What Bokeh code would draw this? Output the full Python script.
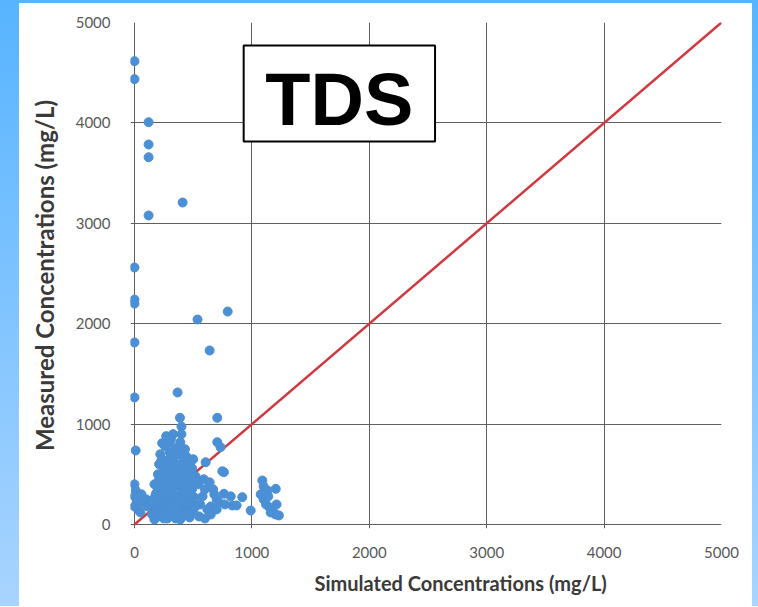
from bokeh.plotting import figure
from bokeh.models import Label, BoxAnnotation, Spacer, FixedTicker, Range1d, Title
from bokeh.layouts import row, column
from bokeh.embed import file_html
from bokeh.resources import INLINE

# ---- data ----
simulated = [
    0, 0, 0, 0, 0, 0, 0, 10, 0, 10, 0, 20, 0, 30, 60, 80, 50, 100, 110,
    120, 120, 120, 120,
    410, 537, 794, 640, 367,
    387, 705, 400, 400, 236, 705, 733, 606, 748, 1089, 1132, 918, 990,
    1075, 1100, 1120, 1150, 1180, 1200, 1230, 1203, 1160, 1100, 1140, 1210,
    762, 762, 833, 700, 650, 680, 600, 620, 560, 580, 540, 650,
    150, 160, 170, 180, 190, 200, 200, 210, 220, 220, 230, 240, 250, 250, 260, 260,
    270, 280, 280, 290, 290, 300, 300, 310, 310, 320, 320, 330, 330, 340, 340, 350,
    350, 360, 360, 370, 370, 380, 380, 390, 390, 400, 400, 410, 410, 420, 420, 430,
    430, 440, 440, 450, 450, 460, 470, 470, 480, 480, 490, 500, 500, 510, 520, 520,
    170, 190, 210, 230, 240, 260, 270, 290, 300, 310, 320, 340, 350, 360, 370, 380,
    390, 400, 410, 420, 430, 440, 460, 480, 490, 270, 330, 280, 300, 350, 250, 230,
    330, 360, 440, 460, 400, 300, 180, 200, 220, 210,
    550, 600, 590, 640, 670, 700, 720, 770, 820, 870,
]
measured = [
    4615, 4436, 2560, 2240, 2200, 1813, 1265, 737, 400, 340, 280, 230, 180, 150, 300, 220, 120, 250, 180,
    4007, 3785, 3658, 3078,
    3207, 2042, 2121, 1733, 1315,
    1063, 1063, 975, 900, 810, 820, 770, 620, 530, 438, 339, 272, 139,
    300, 250, 200, 170, 130, 100, 90, 355, 120, 380, 280, 200,
    521, 306, 189, 250, 180, 300, 350, 150, 200, 280, 400, 100,
    100, 250, 400, 180, 320, 500, 80, 600, 260, 700, 150, 420, 550, 60, 330, 780,
    200, 640, 470, 100, 380, 720, 250, 560, 850, 160, 430, 300, 650, 80, 520, 760,
    220, 380, 600, 130, 480, 700, 280, 820, 50, 420, 560, 180, 330, 650, 90, 750,
    260, 480, 380, 150, 600, 300, 70, 520, 220, 420, 350, 130, 650, 270, 180, 480,
    50, 140, 380, 480, 300, 120, 560, 480, 380, 200, 620, 420, 60, 280, 760, 150,
    500, 250, 80, 520, 350, 200, 110, 300, 560, 880, 900, 60, 150, 160, 400, 640,
    460, 520, 680, 420, 700, 820, 300, 220, 120, 450,
    80, 60, 450, 420, 350, 150, 220, 200, 280, 190,
]
line_x = [0, 5000]
line_y = [0, 5000]
ticks = [0, 1000, 2000, 3000, 4000, 5000]

# ranges extend slightly below zero so that points on the axes are not clipped;
# the grid lines at 0 draw the axes (and stick out like Excel's outward ticks)
p = figure(width=733, height=603, output_backend="svg", toolbar_location=None,
           x_range=Range1d(-34, 5000), y_range=Range1d(-40, 5000))
p.min_border_left = 111
p.min_border_right = 31
p.min_border_top = 19
p.min_border_bottom = 78
p.background_fill_color = "white"
p.border_fill_color = "white"
p.outline_line_color = None

for ax in (p.xaxis[0], p.yaxis[0]):
    ax.ticker = FixedTicker(ticks=ticks)
    ax.minor_tick_line_color = None
    ax.major_tick_line_color = None
    ax.axis_line_color = None
    ax.major_label_text_font = "Lato"
    ax.major_label_text_font_size = "15px"
    ax.major_label_text_color = "#595959"
p.xaxis.major_label_standoff = 12
p.yaxis.major_label_standoff = 14

p.yaxis.axis_label = "Measured Concentrations (mg/L)"
p.yaxis.axis_label_text_font = "Lato"
p.yaxis.axis_label_text_font_style = "bold"
p.yaxis.axis_label_text_font_size = "24px"
p.yaxis.axis_label_text_color = "#3a3a3a"
p.yaxis.axis_label_standoff = 14

for g in (p.xgrid[0], p.ygrid[0]):
    g.ticker = FixedTicker(ticks=ticks)
    g.grid_line_color = "#5f5f5f"
    g.grid_line_width = 1

p.line(line_x, line_y, line_color="#d0393f", line_width=2.5)
p.scatter(simulated, measured, size=9, fill_color="#4b8fd5", line_color="#4b8fd5")

box = BoxAnnotation(left=930, right=2560, top=4771, bottom=3815,
                    fill_color="white", fill_alpha=1.0,
                    line_color="black", line_alpha=1.0, line_width=2, level="overlay")
p.add_layout(box)
p.add_layout(Label(x=1745, y=4229, text="TDS", text_font="Liberation Sans",
                   text_font_style="bold", text_font_size="74px",
                   text_align="center", text_baseline="middle", text_color="black",
                   level="overlay"))

xtitle = Title(text="Simulated Concentrations (mg/L)", align="left", offset=184,
               text_font="Lato", text_font_style="bold", text_font_size="20px",
               text_color="#3a3a3a", standoff=17)
p.add_layout(xtitle, "below")

top_band = Spacer(width=758, height=3,
                  styles={"background": "#58b4ff"})
left_band = Spacer(width=19, height=603,
                   styles={"background": "linear-gradient(to bottom, #58b4ff, #a8d4ff)"})
right_band = Spacer(width=6, height=603,
                    styles={"background": "linear-gradient(to bottom, #58b4ff, #a8d4ff)"})
layout = column(top_band, row(left_band, p, right_band, spacing=0), spacing=0)

open("out.html", "w").write(file_html(layout, INLINE))
